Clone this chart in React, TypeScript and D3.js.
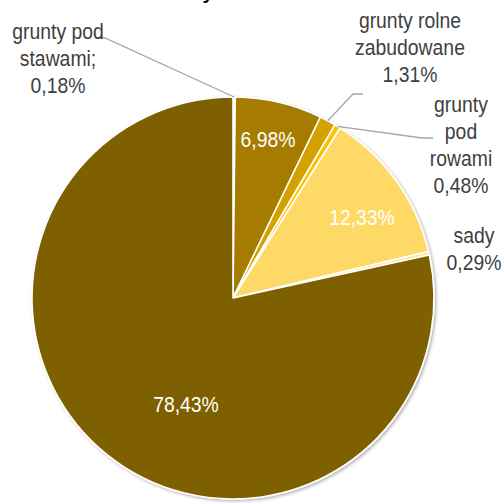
import React from "react";
import * as d3 from "d3";

const categories = [
  "grunty pod stawami",
  "pastwiska",
  "grunty rolne zabudowane",
  "grunty pod rowami",
  "łąki",
  "sady",
  "grunty orne",
];
const values = [0.18, 6.98, 1.31, 0.48, 12.33, 0.29, 78.43];
const valueLabels = ["0,18%", "6,98%", "1,31%", "0,48%", "12,33%", "0,29%", "78,43%"];
const colors = ["#FFF2CC", "#A57C00", "#D4A200", "#FFC000", "#FFD966", "#FFE699", "#7F6000"];
const titleText = "Grunty rolne";

const W = 504;
const H = 503;
const cx = 233;
const cy = 298;
const R = 201;
const FS = 22;
const SX = 0.88;
const LH = 27;

type Outside = { idx: number; lines: string[]; x: number; y: number; leader: [number, number][] };

export default function App() {
  const pie = d3.pie<number>().sort(null).value((d) => d)(values);
  const arc = d3.arc<d3.PieArcDatum<number>>().innerRadius(0).outerRadius(R);
  const rad = (i: number, r: number): [number, number] => {
    const a = (pie[i].startAngle + pie[i].endAngle) / 2;
    return [cx + r * Math.sin(a), cy - r * Math.cos(a)];
  };

  const inside: { idx: number; x: number; y: number }[] = [
    { idx: 1, x: 268, y: 147 },
    { idx: 4, x: 362, y: 225 },
    { idx: 6, x: 186, y: 412 },
  ];

  const outside: Outside[] = [
    {
      idx: 0,
      lines: ["grunty pod", "stawami;", valueLabels[0]],
      x: 58,
      y: 39,
      leader: [[97, 38], [105, 38], rad(0, R)],
    },
    {
      idx: 2,
      lines: ["grunty rolne", "zabudowane", valueLabels[2]],
      x: 410,
      y: 28,
      leader: [[363, 94], [353, 94], rad(2, R)],
    },
    {
      idx: 3,
      lines: ["grunty", "pod", "rowami", valueLabels[3]],
      x: 461,
      y: 112,
      leader: [[433, 138], [422, 138], rad(3, R)],
    },
    {
      idx: 5,
      lines: ["sady", valueLabels[5]],
      x: 474,
      y: 243,
      leader: [],
    },
  ];

  const line = d3.line();

  return (
    <svg
      width={W}
      height={H}
      style={{ position: "absolute", left: 0, top: 0, background: "#fff" }}
      fontFamily="'Liberation Sans', Arial, sans-serif"
    >
      <defs>
        <filter id="sh" x="-10%" y="-10%" width="130%" height="130%">
          <feDropShadow dx="1.5" dy="1.5" stdDeviation="1.5" floodColor="#000" floodOpacity="0.3" />
        </filter>
      </defs>
      <rect width={W} height={H} fill="#fff" />
      <text x={148} y={-1} fontSize={20} fontWeight="bold" fill="#000">
        {titleText}
      </text>
      <g filter="url(#sh)">
        {pie.map((p, i) => (
          <path
            key={categories[i]}
            d={arc(p) || ""}
            transform={`translate(${cx},${cy})`}
            fill={colors[i]}
            stroke="#fff"
            strokeWidth={1.6}
            strokeLinejoin="round"
          />
        ))}
      </g>
      {outside.map((o) =>
        o.leader.length ? (
          <path key={"l" + o.idx} d={line(o.leader) || ""} fill="none" stroke="#A6A6A6" strokeWidth={1.3} />
        ) : null
      )}
      {inside.map((t) => (
        <text
          key={"i" + t.idx}
          transform={`translate(${t.x},${t.y}) scale(${SX},1)`}
          textAnchor="middle"
          fontSize={FS}
          fill="#fff"
        >
          {valueLabels[t.idx]}
        </text>
      ))}
      {outside.map((o) =>
        o.lines.map((s, j) => (
          <text
            key={"o" + o.idx + "-" + j}
            transform={`translate(${o.x},${o.y + j * LH}) scale(${SX},1)`}
            textAnchor="middle"
            fontSize={FS}
            fill="#404040"
          >
            {s}
          </text>
        ))
      )}
    </svg>
  );
}
